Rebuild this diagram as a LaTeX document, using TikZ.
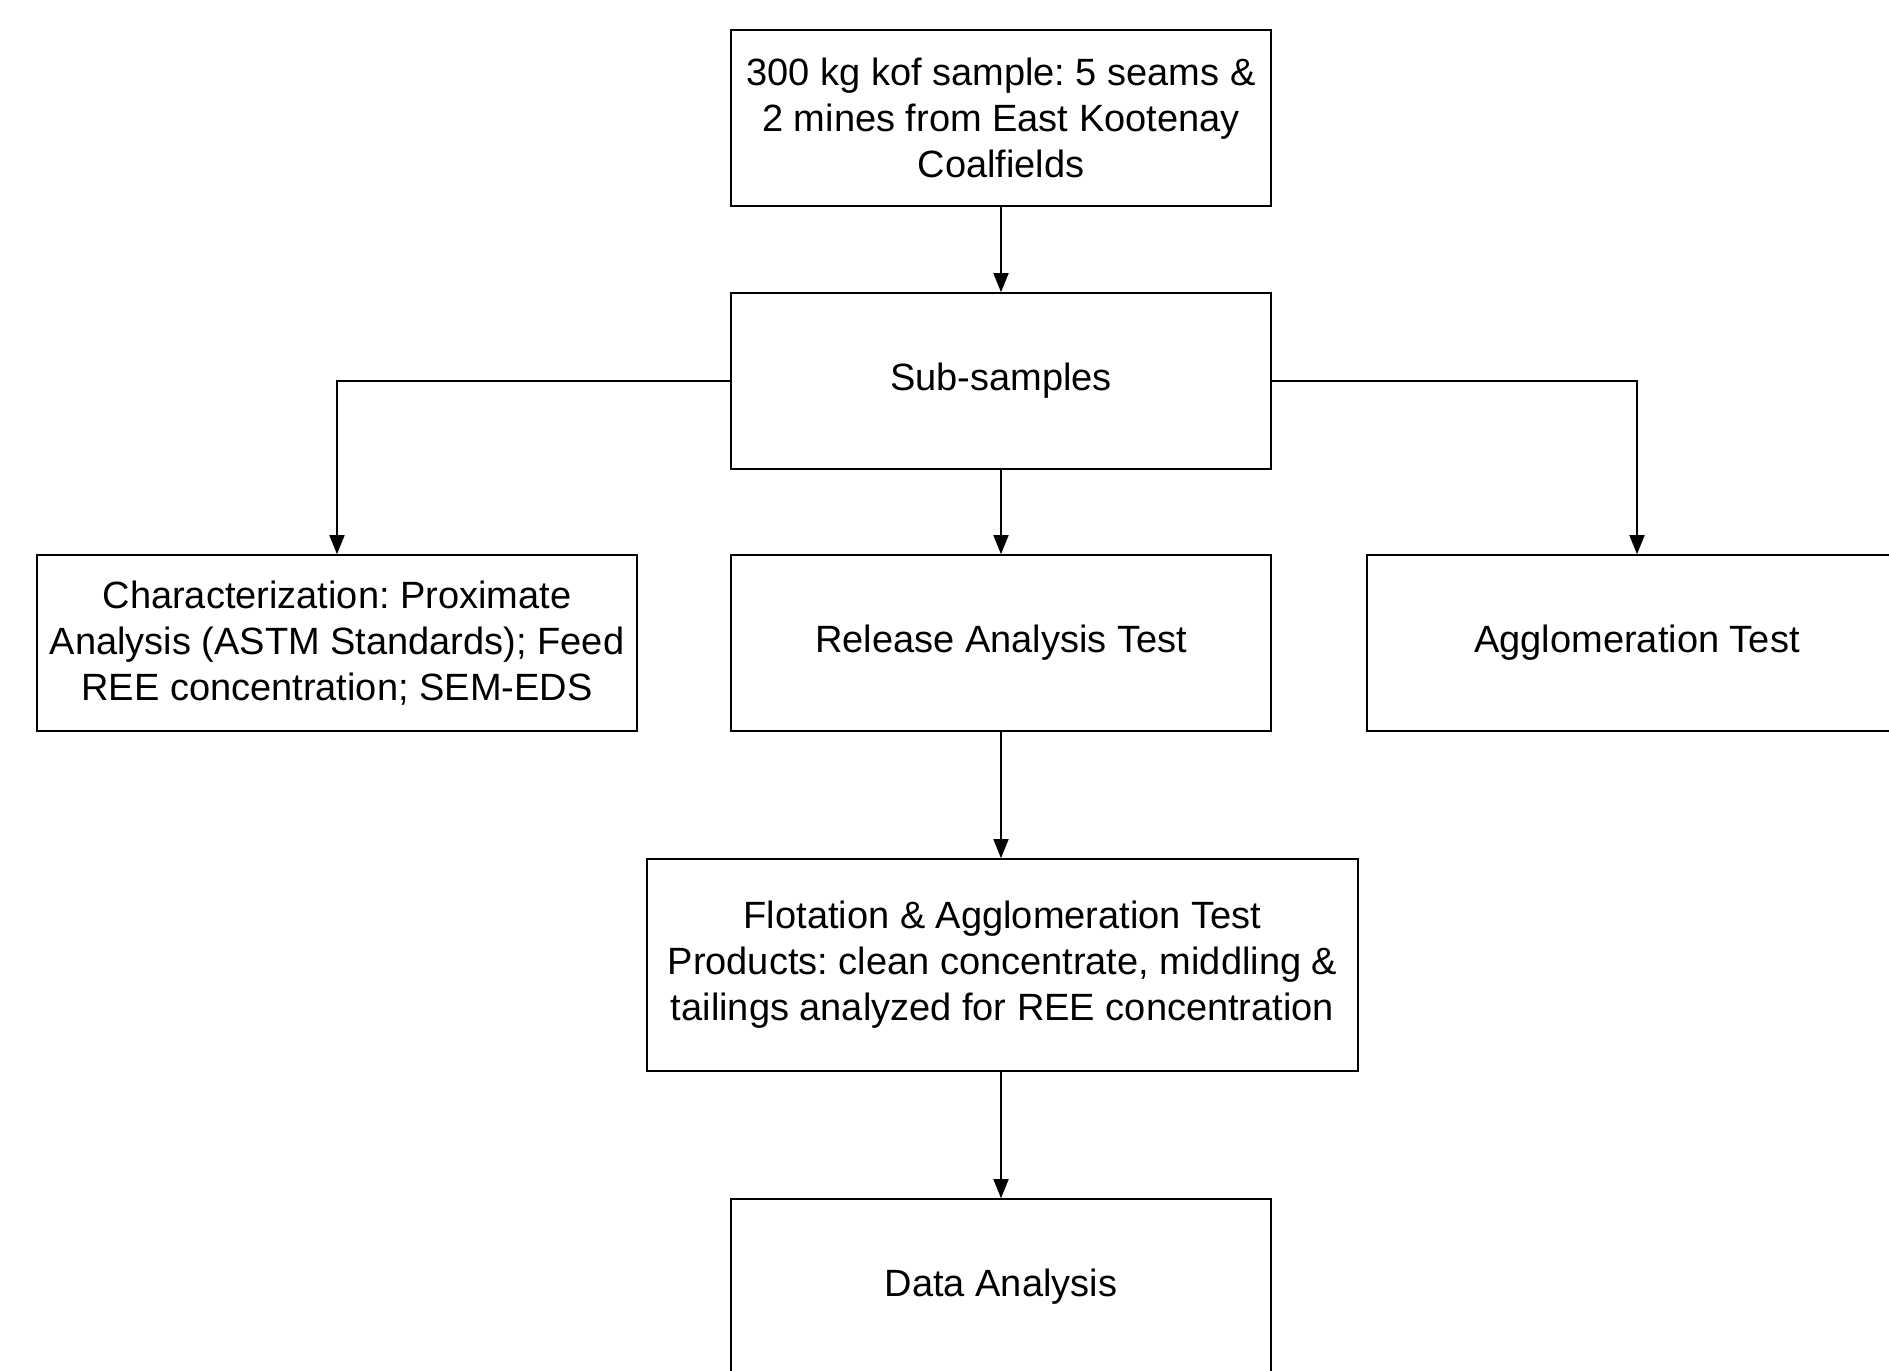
\documentclass[tikz,border=0pt]{standalone}
\usepackage{fontspec}
\setmainfont{Liberation Sans}
\usetikzlibrary{arrows.meta}
\frenchspacing
\begin{document}
\begin{tikzpicture}[x=1pt,y=-1pt,
  box/.style={draw=black,line width=1.6pt,inner sep=0pt,align=center,
    font=\fontsize{38}{46}\selectfont\frenchspacing,fill=white},
  conn/.style={line width=1.6pt,-{Triangle[length=19pt,width=15pt]}}]
\useasboundingbox (0,0) rectangle (1889,1370);
\clip (0,0) rectangle (1889,1370);
\fill[white] (0,0) rectangle (1889,1370);
\node[box,minimum width=540pt,minimum height=176pt] (top) at (1001,118)
  {300 kg kof sample: 5 seams \&\\2 mines from East Kootenay\\Coalfields};
\node[box,minimum width=540pt,minimum height=176pt] (sub) at (1001,381) {Sub-samples};
\node[box,minimum width=600pt,minimum height=176pt] (char) at (337,643)
  {Characterization: Proximate\\Analysis (ASTM Standards); Feed\\REE concentration; SEM-EDS};
\node[box,minimum width=540pt,minimum height=176pt] (rel) at (1001,643) {Release Analysis Test};
\node[box,minimum width=540pt,minimum height=176pt] (agg) at (1637,643) {Agglomeration Test};
\node[box,minimum width=711pt,minimum height=212pt] (flot) at (1002.5,965)
  {Flotation \& Agglomeration Test\\Products: clean concentrate, middling \&\\tailings analyzed for REE concentration};
\node[box,minimum width=540pt,minimum height=176pt] (data) at (1001,1287) {Data Analysis};
\draw[conn] (top) -- (sub);
\draw[conn] (sub.west) -| (char.north);
\draw[conn] (sub.east) -| (agg.north);
\draw[conn] (sub) -- (rel);
\draw[conn] (rel.south) -- (rel.south |- flot.north);
\draw[conn] (flot.south -| data.north) -- (data.north);
\end{tikzpicture}
\end{document}
